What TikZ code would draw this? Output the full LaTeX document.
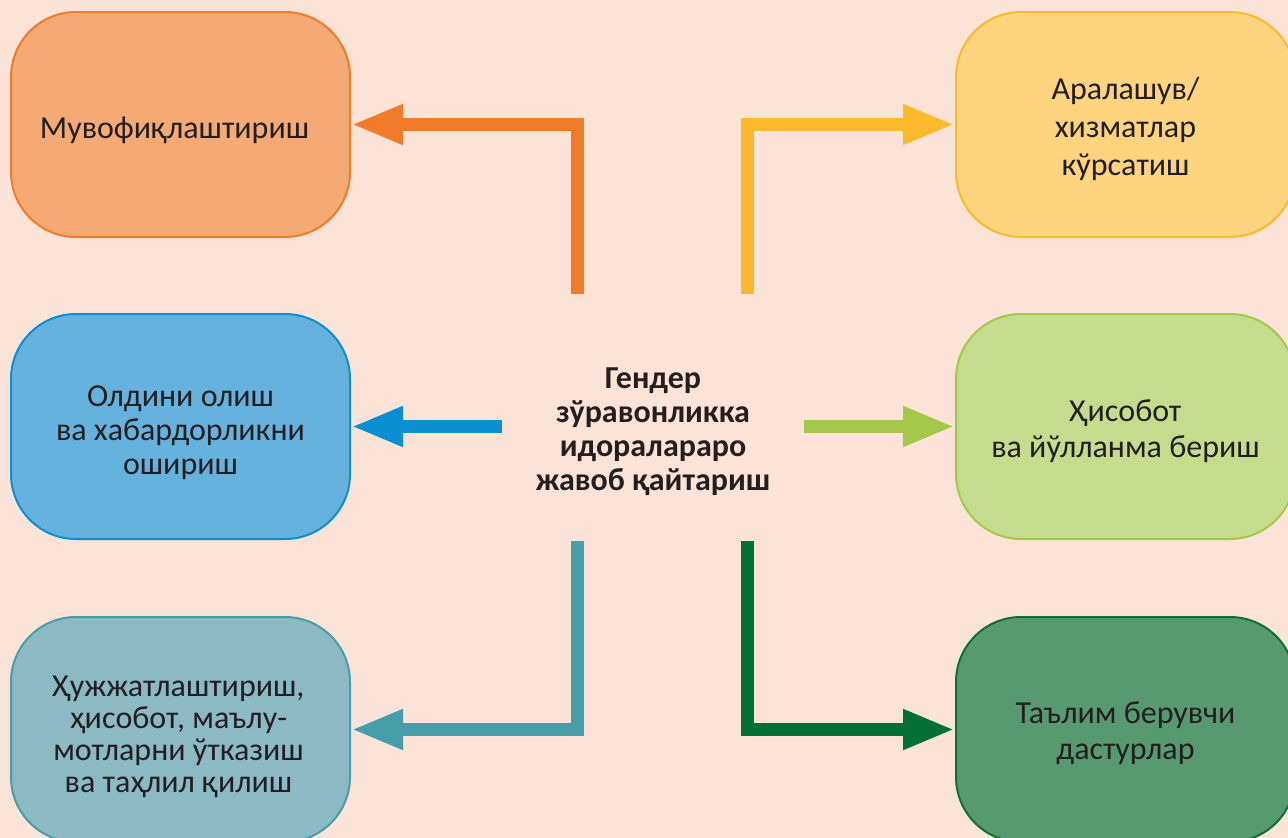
\documentclass[tikz,border=0pt]{standalone}
\usepackage{fontspec}
\setmainfont{Carlito}
\usetikzlibrary{arrows.meta}
\definecolor{bg}{HTML}{FCE3D7}
\definecolor{txt}{HTML}{231F20}
\definecolor{orF}{HTML}{F5A975}\definecolor{orD}{HTML}{F07B2B}
\definecolor{yeF}{HTML}{FED47F}\definecolor{yeD}{HTML}{FBBA2B}
\definecolor{blF}{HTML}{66B2DE}\definecolor{blD}{HTML}{0B8FD2}
\definecolor{lgF}{HTML}{C5DC8E}\definecolor{lgD}{HTML}{A3C84A}
\definecolor{teF}{HTML}{8BBAC2}\definecolor{teD}{HTML}{479DA8}
\definecolor{dgF}{HTML}{579A71}\definecolor{dgD}{HTML}{0F7039}
\definecolor{dgA}{HTML}{006F38}
\begin{document}
\begin{tikzpicture}[x=1pt,y=-1pt,
  box/.style={draw, line width=2pt, rounded corners=65pt, minimum width=339pt, minimum height=225pt, inner sep=0pt},
  lbl/.style={align=center, text=txt, inner sep=0pt, font=\fontsize{32}{#1}\selectfont},
  conn/.style={line width=13pt, -{Triangle[length=52pt,width=37pt]}},
]
\fill[bg] (0,0) rectangle (1288,838);
\useasboundingbox (0,0) rectangle (1288,838);

\node[box, fill=orF, draw=orD] (b1) at (180.5,124.5) {};
\node[box, fill=yeF, draw=yeD] (b2) at (1125.5,124.5) {};
\node[box, fill=blF, draw=blD] (b3) at (180.5,426.5) {};
\node[box, fill=lgF, draw=lgD] (b4) at (1125.5,426.5) {};
\node[box, fill=teF, draw=teD] (b5) at (180.5,729.5) {};
\node[box, fill=dgF, draw=dgD] (b6) at (1125.5,729.5) {};

\node[lbl=36] (t1) at ([xshift=-6pt,yshift=-6pt]b1.center) {Мувофиқлаштириш};
\node[lbl=38] (t2) at ([yshift=-4pt]b2.center) {Аралашув/\\хизматлар\\кўрсатиш};
\node[lbl=34] (t3) at ([yshift=-6pt]b3.center) {Олдини олиш\\ва хабардорликни\\ошириш};
\node[lbl=36] (t4) at ([yshift=-5pt]b4.center) {Ҳисобот\\ва йўлланма бериш};
\node[lbl=32] (t5) at ([xshift=-2pt,yshift=-7pt]b5.center) {Ҳужжатлаштириш,\\ҳисобот, маълу-\\мотларни ўтказиш\\ва таҳлил қилиш};
\node[lbl=36] (t6) at ([yshift=-4pt]b6.center) {Таълим берувчи\\дастурлар};

\node[lbl=34, font=\bfseries\fontsize{32}{34}\selectfont] (c) at (653,432)
  {Гендер\\зўравонликка\\идоралараро\\жавоб қайтариш};

\coordinate (s1) at (577.5,294);
\coordinate (s2) at (747.5,294);
\coordinate (s3) at (502,426.5);
\coordinate (s4) at (804,426.5);
\coordinate (s5) at (577.5,541);
\coordinate (s6) at (747.5,541);

\draw[conn, orD] (s1) |- (b1.east);
\draw[conn, yeD] (s2) |- (b2.west);
\draw[conn, blD] (s3) -- (b3.east);
\draw[conn, lgD] (s4) -- (b4.west);
\draw[conn, teD] (s5) |- (b5.east);
\draw[conn, dgA] (s6) |- (b6.west);
\end{tikzpicture}
\end{document}
